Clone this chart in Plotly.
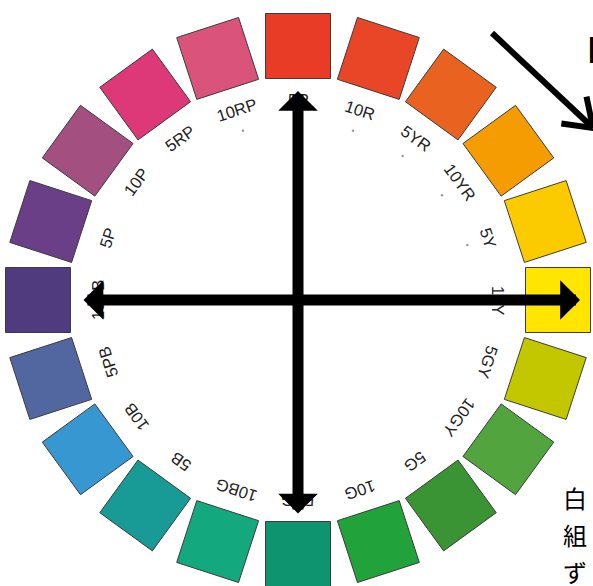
import numpy as np
import plotly.graph_objects as go

# ---- data ----
hues = ["5R", "10R", "5YR", "10YR", "5Y", "10Y", "5GY", "10GY", "5G", "10G",
        "5BG", "10BG", "5B", "10B", "5PB", "10PB", "5P", "10P", "5RP", "10RP"]
hue_colors = ["#e83c27", "#e94628", "#e9621f", "#f59c02", "#fbcb00", "#ffe500",
              "#c2c700", "#51a43e", "#3b9433", "#21a23b", "#0e956f", "#14a87f",
              "#189b96", "#3797d1", "#52679f", "#503b7e", "#6b3e88", "#a34f80",
              "#dd3878", "#d9537a"]
dot_hues = ["10R", "5YR", "10YR", "5Y", "10RP"]
side_text = ["白", "組", "ず"]
corner_text = "D"

W, H = 593, 586
CX, CY = 298, 300
RX, RY = 260, 254     # ring of colour chips
RL = 200              # ring of labels
RD = 178              # ring of small dots
S = 65                # chip size
step = 360 / len(hues)

fig = go.Figure()
shapes = []
annotations = []

for i, (h, c) in enumerate(zip(hues, hue_colors)):
    ang = step * i
    p = np.deg2rad(ang)
    cx = CX + RX * np.sin(p)
    cy = CY - RY * np.cos(p)
    cs, sn = np.cos(p), np.sin(p)
    pts = []
    for dx, dy in [(-1, -1), (1, -1), (1, 1), (-1, 1)]:
        x, y = dx * S / 2, dy * S / 2
        pts.append((cx + x * cs - y * sn, cy + x * sn + y * cs))
    path = "M" + "L".join(f"{x:.2f},{y:.2f}" for x, y in pts) + "Z"
    shapes.append(dict(type="path", path=path, xref="x", yref="y",
                       fillcolor=c, line=dict(color="#3c3c3c", width=1), layer="below"))
    lx = CX + RL * np.sin(p)
    ly = CY - RL * np.cos(p)
    ta = ang if ang <= 180 else ang - 360
    annotations.append(dict(x=lx, y=ly, xref="x", yref="y", text=h, showarrow=False,
                            textangle=ta, xanchor="center", yanchor="middle",
                            font=dict(family="Liberation Sans, Arial", size=16.5, color="#222222")))

# small dots
dx_ = []
dy_ = []
for h in dot_hues:
    p = np.deg2rad(step * hues.index(h))
    dx_.append(CX + RD * np.sin(p))
    dy_.append(CY - RD * np.cos(p))
fig.add_trace(go.Scatter(x=dx_, y=dy_, mode="markers", hoverinfo="skip",
                         marker=dict(size=2.5, color="#9a9a9a")))

# axis arrows (annotations so that they cover the labels)
arrow_common = dict(xref="x", yref="y", axref="x", ayref="y", text="", showarrow=True,
                    arrowside="end+start", arrowhead=1, startarrowhead=1,
                    arrowsize=0.6, startarrowsize=0.6, arrowwidth=11, arrowcolor="#000000")
annotations.append(dict(x=CX, y=91, ax=CX, ay=515, **arrow_common))
annotations.append(dict(x=580, y=CY, ax=82, ay=CY, **arrow_common))

# diagonal arrow
t0 = (492, 33)
t1 = (593, 128)
shapes.append(dict(type="line", x0=t0[0], y0=t0[1], x1=t1[0] - 3, y1=t1[1] - 3,
                   xref="x", yref="y", line=dict(color="#000000", width=6)))
back = np.arctan2(t0[1] - t1[1], t0[0] - t1[0])
wl = 32
wa = (t1[0] + wl * np.cos(back - np.deg2rad(35)), t1[1] + wl * np.sin(back - np.deg2rad(35)))
wb = (t1[0] + wl * np.cos(back + np.deg2rad(35)), t1[1] + wl * np.sin(back + np.deg2rad(35)))
shapes.append(dict(type="path", xref="x", yref="y",
                   path=f"M{wa[0]:.2f},{wa[1]:.2f}L{t1[0]},{t1[1]}L{wb[0]:.2f},{wb[1]:.2f}",
                   line=dict(color="#000000", width=6)))

# cut-off texts at right edge
annotations.append(dict(x=585, y=50, xref="x", yref="y", text=corner_text, showarrow=False,
                        xanchor="left", yanchor="middle",
                        font=dict(family="Liberation Sans, Arial", size=36, color="#000000")))
for k, ch in enumerate(side_text):
    annotations.append(dict(x=561, y=497 + 37 * k, xref="x", yref="y", text=ch, showarrow=False,
                            xanchor="left", yanchor="middle",
                            font=dict(family="Noto Sans CJK JP", size=24, color="#000000")))

fig.update_layout(
    width=W, height=H, autosize=False,
    margin=dict(l=0, r=0, t=0, b=0),
    paper_bgcolor="#ffffff", plot_bgcolor="#ffffff",
    showlegend=False,
    xaxis=dict(range=[0, W], visible=False, fixedrange=True),
    yaxis=dict(range=[H, 0], visible=False, fixedrange=True),
    shapes=shapes, annotations=annotations,
)
fig.write_html("out.html", config={"displayModeBar": False, "staticPlot": True},
               post_script="document.body.style.margin='0px';document.body.style.overflow='hidden';")
